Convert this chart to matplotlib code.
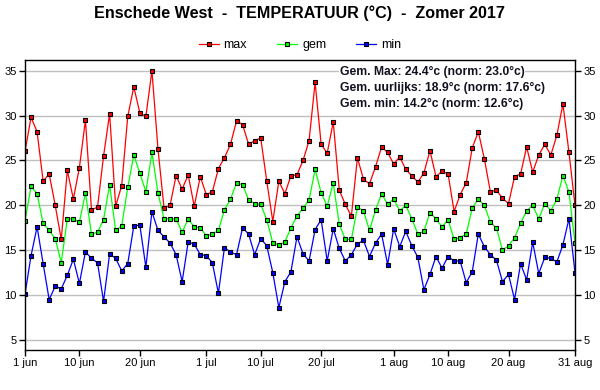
import matplotlib
matplotlib.use("Agg")
import matplotlib.pyplot as plt
import numpy as np

plt.rcParams['font.family'] = ['Liberation Sans', 'DejaVu Sans']

t_max = [26.0, 29.8, 28.2, 22.7, 23.5, 20.0, 16.2, 23.9, 20.7, 24.2,
         29.5, 19.5, 19.8, 25.5, 30.2, 19.9, 22.2, 29.9, 33.2, 30.3,
         29.9, 35.0, 26.3, 19.7, 20.0, 23.3, 21.8, 23.4, 19.9, 23.2,
         21.2, 21.5, 24.1, 25.3, 26.8, 29.4, 29.0, 26.8, 27.2, 27.5,
         22.7, 18.2, 22.7, 21.3, 23.3, 23.4, 25.0, 27.2, 33.7, 26.8,
         25.8, 29.3, 21.7, 20.1, 18.8, 25.3, 22.9, 22.4, 24.3, 26.5,
         25.9, 24.6, 25.4, 24.0, 23.3, 22.6, 23.6, 26.1, 23.2, 23.8,
         23.5, 19.3, 21.2, 22.5, 26.4, 28.2, 25.2, 21.5, 21.7, 20.8,
         20.2, 23.2, 23.5, 26.5, 23.7, 25.6, 26.8, 25.6, 27.8, 31.3,
         25.9, 20.0]
t_gem = [18.3, 22.1, 21.3, 18.0, 17.2, 16.3, 13.6, 18.5, 18.5, 18.1,
         21.4, 16.8, 17.0, 18.4, 22.3, 17.2, 17.7, 22.0, 25.6, 23.6,
         21.5, 25.9, 21.4, 18.5, 18.5, 18.5, 17.0, 18.5, 17.6, 17.5,
         16.6, 16.8, 17.2, 19.5, 20.7, 22.5, 22.3, 20.6, 20.2, 20.1,
         18.4, 15.8, 15.6, 15.9, 17.5, 18.8, 19.7, 20.6, 24.0, 21.4,
         19.9, 22.5, 17.9, 16.2, 16.2, 19.8, 19.4, 17.2, 19.5, 21.3,
         20.1, 20.7, 19.4, 20.0, 18.5, 16.8, 17.1, 19.2, 18.5, 17.6,
         18.4, 16.2, 16.4, 16.8, 19.7, 20.7, 20.0, 18.1, 17.5, 15.0,
         15.5, 16.4, 18.0, 19.4, 20.0, 18.5, 20.2, 19.4, 20.7, 23.3,
         21.5, 15.8]
t_min = [10.1, 14.4, 17.6, 13.5, 9.5, 11.0, 10.7, 12.2, 14.0, 11.3,
         14.8, 14.1, 13.6, 9.3, 14.6, 14.1, 12.7, 13.5, 17.7, 17.8,
         13.1, 19.3, 17.2, 16.5, 15.8, 14.5, 11.5, 15.9, 15.7, 14.5,
         14.4, 13.6, 10.2, 15.3, 14.8, 14.5, 17.5, 16.8, 14.5, 16.3,
         15.5, 12.5, 8.6, 11.5, 12.6, 16.5, 14.6, 13.8, 17.3, 18.4,
         13.8, 17.4, 15.2, 13.8, 14.5, 15.7, 16.1, 14.3, 15.8, 16.8,
         13.4, 17.4, 15.4, 17.1, 15.5, 14.2, 10.6, 12.3, 14.3, 13.0,
         14.3, 13.8, 13.8, 11.4, 12.6, 16.8, 15.4, 14.5, 13.9, 11.5,
         12.3, 9.5, 13.5, 11.7, 15.9, 12.4, 14.2, 14.1, 13.7, 15.6,
         18.5, 12.5]

tick_days = [0, 9, 19, 30, 39, 49, 61, 70, 80, 91]
tick_labels = ['1 jun', '10 jun', '20 jun', '1 jul', '10 jul', '20 jul',
               '1 aug', '10 aug', '20 aug', '31 aug']
y_ticks = [5, 10, 15, 20, 25, 30, 35]

title = 'Enschede West  -  TEMPERATUUR (°C)  -  Zomer 2017'
info = ['Gem. Max: 24.4°c (norm: 23.0°c)',
        'Gem. uurlijks: 18.9°c (norm: 17.6°c)',
        'Gem. min: 14.2°c (norm: 12.6°c)']

days = np.arange(len(t_max))

fig = plt.figure(figsize=(6, 3.9), dpi=100)
ax = fig.add_axes([25/600, 40/390, 550/600, 290/390])

mk = dict(marker='s', markersize=3.3, markeredgecolor='black', markeredgewidth=0.8, linewidth=0.9)
ax.plot(days, t_max, color='#ff0000', label='max', **mk)
ax.plot(days, t_gem, color='#00ff00', label='gem', **mk)
ax.plot(days, t_min, color='#0000ff', label='min', **mk)

ax.set_xlim(0, 91)
ax.set_ylim(3.886, 36.19)
ax.set_xticks(tick_days)
ax.set_xticklabels(tick_labels)
ax.set_yticks(y_ticks)
ax.yaxis.grid(True, color='#c0c0c0', linewidth=1)
ax.set_axisbelow(True)
ax.tick_params(axis='both', labelsize=8, length=4, width=1, direction='out', pad=2)
ax.tick_params(axis='y', left=True, right=True, labelleft=True, labelright=True)
for s in ax.spines.values():
    s.set_linewidth(1)

fig.text(0.5, 1 - 13/390, title, ha='center', va='center', fontsize=11.6, fontweight='bold')

leg = fig.legend(loc='center', bbox_to_anchor=(0.5, 1 - 45/390), ncol=3, frameon=False,
                 fontsize=9, handlelength=1.6, columnspacing=2.4, handletextpad=0.4)

for k, line in enumerate(info):
    ax.text(340/600, 1 - (72 + 16*k)/390, line, transform=fig.transFigure, ha='left', va='center',
            fontsize=8.7, fontweight='bold', color='#101020',
            bbox=dict(facecolor='white', edgecolor='none', pad=0.5), zorder=5)

fig.savefig('out.png', dpi=100)
